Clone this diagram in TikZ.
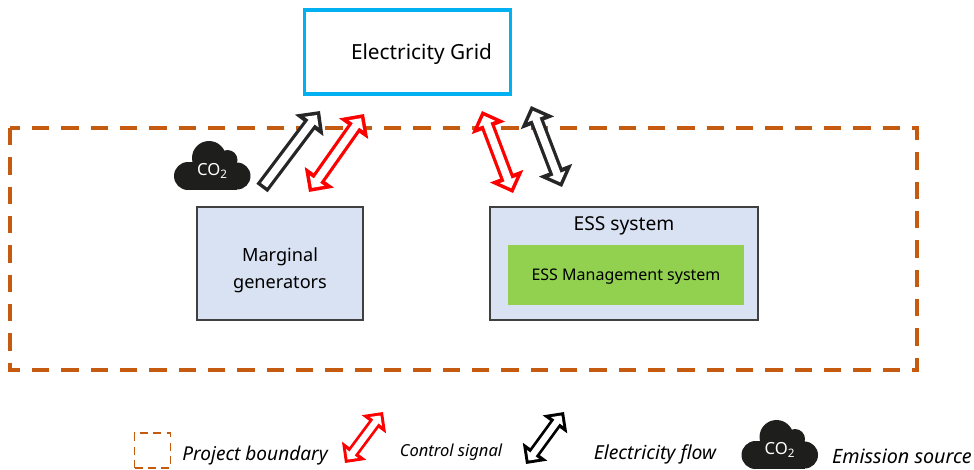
\documentclass[tikz,border=0pt]{standalone}
\usepackage{fontspec}
\setmainfont{Noto Sans}
\usepackage{xcolor}
\usetikzlibrary{arrows.meta}

\definecolor{gridblue}{HTML}{00B0F0}
\definecolor{boundary}{HTML}{C55A11}
\definecolor{essblue}{HTML}{D9E2F3}
\definecolor{essgreen}{HTML}{92D050}
\definecolor{cloudblack}{HTML}{1E1E1C}

\tikzset{
    block/.style={rectangle, draw=black!75, line width=1.1pt, fill=essblue, align=center, font=\fontsize{13.6}{20}\selectfont},
    legend/.style={font=\fontsize{14.3}{15}\selectfont\itshape},
    flowtip/.tip={Triangle[length=13.5pt, width=26pt]},
    innertip/.tip={Triangle[length=6.6pt, width=12.8pt]},
    co2label/.style={text=white, font=\fontsize{12.5}{14}\selectfont, inner sep=0pt},
    pics/co2cloud/.style={code={
        \fill[cloudblack] (-24.5,11) circle[radius=14];
        \fill[cloudblack] (24.5,11) circle[radius=13.5];
        \fill[cloudblack] (-3.5,-7) circle[radius=17];
        \fill[cloudblack] (15,-5) circle[radius=10];
        \fill[cloudblack] (-24.5,-3) rectangle (24.5,25);
    }}
}

% outline arrows with a head on both ends, and with one head only
\newcommand{\twoway}[4][1]{
    \draw[#2, line width=#1*10.5pt, {flowtip[scale=#1]}-{flowtip[scale=#1]}] (#3) -- (#4);
    \draw[white, line width=#1*5.6pt, shorten >=#1*3.8pt, shorten <=#1*3.8pt, {innertip[scale=#1]}-{innertip[scale=#1]}] (#3) -- (#4);
}
\newcommand{\oneway}[3]{
    \draw[#1, line width=10.5pt, -flowtip] (#2) -- (#3);
    \draw[white, line width=5.6pt, shorten >=3.8pt, shorten <=2.6pt, -innertip] (#2) -- (#3);
}

\begin{document}
\begin{tikzpicture}[x=0.75pt, y=-0.75pt]
    \useasboundingbox (0,0) rectangle (974,469);

    % project boundary
    \draw[boundary, line width=2.6pt, dash pattern=on 13pt off 9pt] (10,128) rectangle (917,370);

    % main blocks
    \node[rectangle, draw=gridblue, line width=2.3pt, minimum width=154.5pt, minimum height=63pt, text depth=0pt, font=\fontsize{15.6}{18}\selectfont] (grid) at (407.5,52) {\hspace*{21pt}Electricity Grid};
    \node[block, minimum width=124.5pt, minimum height=84.5pt] (marginal) at (280,263.5) {\rule{0pt}{20pt}Marginal\\generators};
    \node[block, minimum width=201pt, minimum height=84.5pt] (ess) at (624,263.5) {};
    \node[inner sep=0pt, font=\fontsize{14.4}{17}\selectfont] (esstitle) at (624,226) {ESS system};
    \node[rectangle, fill=essgreen, minimum width=177pt, minimum height=45pt, text depth=0pt, font=\fontsize{12}{15}\selectfont] (essmgmt) at (626,275) {ESS Management system};

    % emission source at the generators
    \pic at (212.5,165) {co2cloud};
    \node[co2label] (cloudtext) at (212.5,171) {CO\textsubscript{2}};

    % arrow ends
    \coordinate (genout) at (262,188);
    \coordinate (gridin) at (320,111);
    \coordinate (genctl) at (309,192);
    \coordinate (gridctl) at (364,114);
    \coordinate (essctl) at (513,193);
    \coordinate (gridctlb) at (482,111);
    \coordinate (essflow) at (562,187);
    \coordinate (gridflow) at (531,106);

    \oneway{black!85}{genout}{gridin}
    \twoway{red}{genctl}{gridctl}
    \twoway{red}{essctl}{gridctlb}
    \twoway{black!85}{essflow}{gridflow}

    % legend
    \node[draw=boundary, line width=1.1pt, dash pattern=on 6pt off 4pt, minimum width=27pt, minimum height=26pt] (legbox) at (152.5,450.5) {};
    \node[legend] (legboxtext) at (255,456) {Project boundary};

    \coordinate (legctla) at (345,463);
    \coordinate (legctlb) at (383,412);
    \twoway[0.85]{red}{legctla}{legctlb}
    \node[legend, font=\fontsize{12.4}{13}\selectfont\itshape] (legctltext) at (451,452) {Control signal};

    \coordinate (legflowa) at (526,464);
    \coordinate (legflowb) at (564,412);
    \twoway[0.85]{black}{legflowa}{legflowb}
    \node[legend, font=\fontsize{14.5}{15}\selectfont\itshape] (legflowtext) at (655,454) {Electricity flow};

    \pic at (780,444) {co2cloud};
    \node[co2label] (legcloudtext) at (780,450) {CO\textsubscript{2}};
    \node[legend, font=\fontsize{14.8}{15}\selectfont\itshape] (legcloud) at (902,456) {Emission source};
\end{tikzpicture}
\end{document}
